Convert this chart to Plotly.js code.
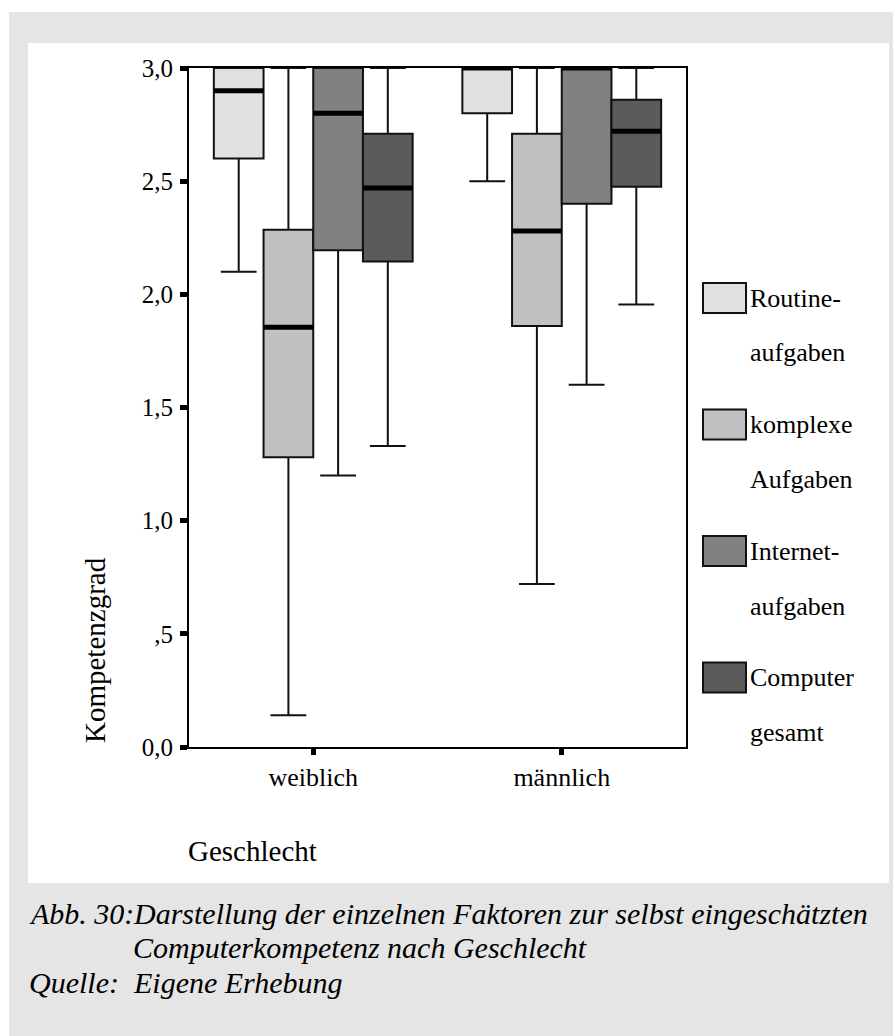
<!DOCTYPE html>
<html>
<head>
<meta charset="utf-8">
<script src="https://cdn.plot.ly/plotly-3.0.1.min.js"></script>
<style>html,body{margin:0;padding:0;background:#fff;}#chart{width:895px;height:1036px;}</style>
</head>
<body>
<div id="chart"></div>
<script>
// ---- data ----
const categories = ['weiblich', 'männlich'];
const seriesNames = ['Routineaufgaben', 'komplexe Aufgaben', 'Internetaufgaben', 'Computer gesamt'];
const legendLines = [['Routine-', 'aufgaben'], ['komplexe', 'Aufgaben'], ['Internet-', 'aufgaben'], ['Computer', 'gesamt']];
const seriesColors = ['#e1e1e1', '#c1c1c1', '#818181', '#5b5b5b'];

const routineLower = [2.10, 2.50];
const routineQ1 = [2.60, 2.80];
const routineMedian = [2.90, 3.00];
const routineQ3 = [3.00, 3.00];
const routineUpper = [3.00, 3.00];

const komplexLower = [0.14, 0.72];
const komplexQ1 = [1.28, 1.86];
const komplexMedian = [1.855, 2.28];
const komplexQ3 = [2.285, 2.71];
const komplexUpper = [3.00, 3.00];

const internetLower = [1.20, 1.60];
const internetQ1 = [2.195, 2.40];
const internetMedian = [2.80, 3.00];
const internetQ3 = [3.00, 3.00];
const internetUpper = [3.00, 3.00];

const computerLower = [1.33, 1.955];
const computerQ1 = [2.145, 2.475];
const computerMedian = [2.47, 2.72];
const computerQ3 = [2.71, 2.86];
const computerUpper = [3.00, 3.00];

const yTickVals = [0, 0.5, 1, 1.5, 2, 2.5, 3];
const yTickText = ['0,0', ',5', '1,0', '1,5', '2,0', '2,5', '3,0'];
const yTitle = 'Kompetenzgrad';
const xTitle = 'Geschlecht';
const captionLabel1 = 'Abb. 30:';
const captionText1 = 'Darstellung der einzelnen Faktoren zur selbst eingeschätzten';
const captionText2 = 'Computerkompetenz nach Geschlecht';
const captionLabel3 = 'Quelle:';
const captionText3 = 'Eigene Erhebung';

// ---- build ----
const stats = [
  [routineLower, routineQ1, routineMedian, routineQ3, routineUpper],
  [komplexLower, komplexQ1, komplexMedian, komplexQ3, komplexUpper],
  [internetLower, internetQ1, internetMedian, internetQ3, internetUpper],
  [computerLower, computerQ1, computerMedian, computerQ3, computerUpper]
];

const FONT = 'Liberation Serif';
const W = 895, H = 1036;
const M = {l: 189, r: 209, t: 68, b: 289};
const PW = W - M.l - M.r, PH = H - M.t - M.b;
const xp = px => (px - M.l) / PW;
const yp = py => (H - M.b - py) / PH;

const traces = [];
stats.forEach((s, i) => {
  traces.push({
    type: 'box', name: seriesNames[i], x: categories,
    lowerfence: s[0], q1: s[1], median: s[2], q3: s[3], upperfence: s[4],
    fillcolor: seriesColors[i], line: {color: '#111', width: 2},
    whiskerwidth: 0.72, offsetgroup: 'g' + i, alignmentgroup: 'a',
    showlegend: false, hoverinfo: 'y'
  });
});
stats.forEach((s, i) => {
  traces.push({
    type: 'box', name: seriesNames[i] + ' Median', x: categories,
    lowerfence: s[2], q1: s[2], median: s[2], q3: s[2], upperfence: s[2],
    fillcolor: 'rgba(0,0,0,0)', line: {color: '#000', width: 5},
    whiskerwidth: 0, offsetgroup: 'g' + i, alignmentgroup: 'a',
    showlegend: false, hoverinfo: 'skip'
  });
});

const shapes = [
  {type: 'rect', xref: 'paper', yref: 'paper', x0: xp(9), x1: xp(893), y0: yp(12), y1: yp(1036),
   fillcolor: '#e5e5e5', line: {width: 0}, layer: 'below'},
  {type: 'rect', xref: 'paper', yref: 'paper', x0: xp(28), x1: xp(889), y0: yp(43), y1: yp(883),
   fillcolor: '#ffffff', line: {width: 0}, layer: 'below'}
];
const annotations = [];
const legTop = 283, legStep = 126.5, swH = 30;
legendLines.forEach((lines, i) => {
  const top = legTop + i * legStep;
  shapes.push({type: 'rect', xref: 'paper', yref: 'paper', x0: xp(703), x1: xp(746),
    y0: yp(top), y1: yp(top + swH), fillcolor: seriesColors[i], line: {color: '#111', width: 2}});
  lines.forEach((t, j) => {
    annotations.push({xref: 'paper', yref: 'paper', x: xp(748), y: yp(top + swH / 2 + j * 55),
      xanchor: 'left', yanchor: 'middle', showarrow: false, text: t,
      font: {family: FONT, size: 26, color: '#000'}});
  });
});
annotations.push({xref: 'paper', yref: 'paper', x: xp(95), y: yp(650), textangle: -90,
  xanchor: 'center', yanchor: 'middle', showarrow: false, text: yTitle,
  font: {family: FONT, size: 29, color: '#000'}});
annotations.push({xref: 'paper', yref: 'paper', x: xp(186), y: yp(851),
  xanchor: 'left', yanchor: 'middle', showarrow: false, text: xTitle,
  font: {family: FONT, size: 29, color: '#000'}});
const capFont = {family: FONT, size: 30, color: '#000', style: 'italic'};
[[captionLabel1, 27, 913], [captionText1, 131, 913], [captionText2, 131, 947],
 [captionLabel3, 27, 982], [captionText3, 131, 982]].forEach(c => {
  annotations.push({xref: 'paper', yref: 'paper', x: xp(c[1]), y: yp(c[2]),
    xanchor: 'left', yanchor: 'middle', showarrow: false, text: c[0], font: capFont});
});

const layout = {
  width: W, height: H, margin: M,
  paper_bgcolor: '#ffffff', plot_bgcolor: '#ffffff',
  boxmode: 'group', boxgap: 0.2, boxgroupgap: 0,
  showlegend: false,
  font: {family: FONT, color: '#000'},
  xaxis: {type: 'category', range: [-0.5, 1.5], showline: true, mirror: true, linecolor: '#000', linewidth: 2,
    showgrid: false, zeroline: false, ticks: 'outside', ticklen: 6, tickwidth: 5, tickcolor: '#000',
    tickfont: {family: FONT, size: 26, color: '#000'}, fixedrange: true},
  yaxis: {range: [0, 3], showline: true, mirror: true, linecolor: '#000', linewidth: 2,
    showgrid: false, zeroline: false, ticks: 'outside', ticklen: 7, tickwidth: 5, tickcolor: '#000',
    tickvals: yTickVals, ticktext: yTickText, ticklabelstandoff: 2,
    tickfont: {family: FONT, size: 25, color: '#000'}, fixedrange: true},
  shapes: shapes, annotations: annotations
};
Plotly.newPlot('chart', traces, layout, {displayModeBar: false});
</script>
</body>
</html>
